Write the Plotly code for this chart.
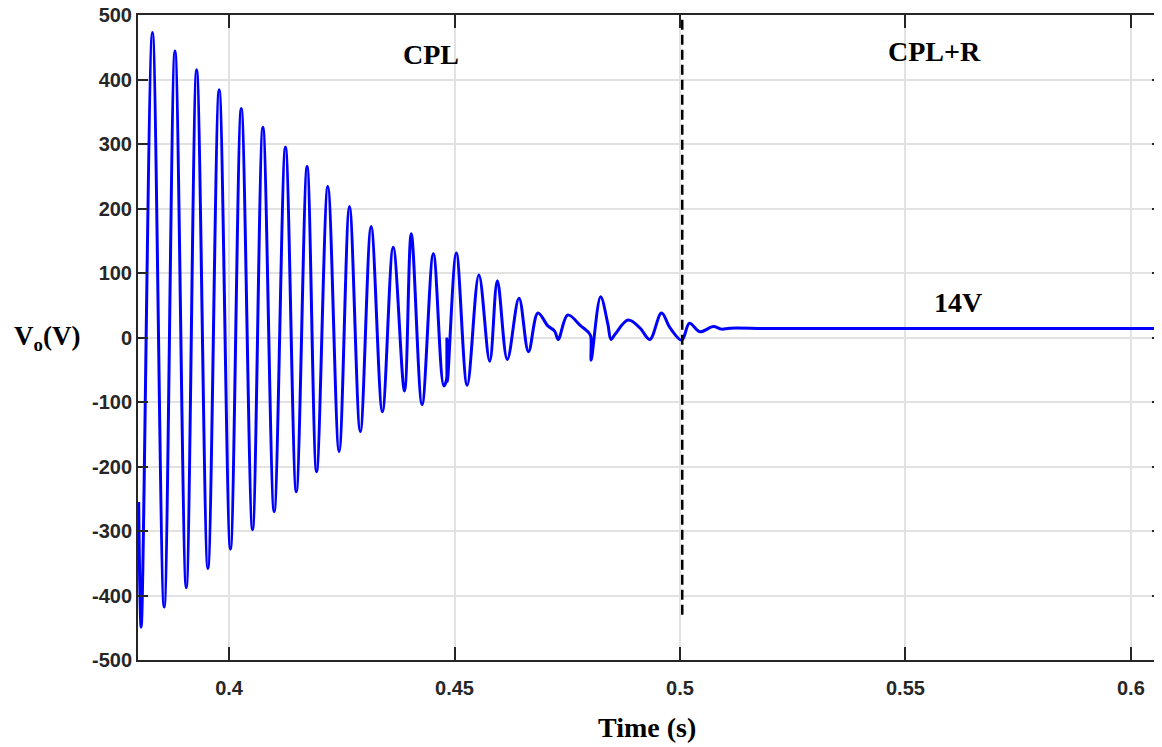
import plotly.graph_objects as go

# Time (s) and output voltage (V) (extrema and glitch points)
time_s = [
    0.37995, 0.3805, 0.3830, 0.3856, 0.3880, 0.3905, 0.3928, 0.3953, 0.3978, 0.4003,
    0.4027, 0.4052, 0.4075, 0.4100, 0.4125, 0.4149, 0.4173, 0.4194, 0.4219, 0.4244,
    0.4267, 0.4291, 0.4315, 0.4340, 0.4364, 0.4389, 0.4404, 0.4428, 0.4453, 0.4476,
    0.4482, 0.4483, 0.4484, 0.4504, 0.4528, 0.4554, 0.4578, 0.4595, 0.4617, 0.4643,
    0.4664, 0.4685, 0.4707, 0.4722, 0.4730, 0.4751, 0.4780, 0.4797, 0.4802, 0.4803,
    0.4824, 0.4840, 0.4847, 0.4856, 0.4885, 0.4911, 0.4933, 0.4959, 0.4978, 0.5004,
    0.5021, 0.5044, 0.5074, 0.5092, 0.5111, 0.5200, 0.5600, 0.6069,
]
vo_volts = [
    -255, -449, 473, -418, 444, -388, 415, -358, 384, -328,
    355, -298, 326, -270, 295, -239, 265, -208, 234, -177,
    203, -146, 172, -115, 140, -83, 161, -104, 130, -75,
    -66, -2, -68, 131, -74, 97, -37, 88, -34, 61,
    -22, 38, 18, 10, -3, 35, 18, 8, 2, -35,
    63, 21, -3, 5, 27, 15, -3, 38, 15, -4,
    22, 9, 17, 13, 14.5, 14, 14, 14,
]

x_ticks = [0.4, 0.45, 0.5, 0.55, 0.6]
x_tick_text = ["0.4", "0.45", "0.5", "0.55", "0.6"]
y_ticks = [-500, -400, -300, -200, -100, 0, 100, 200, 300, 400, 500]
y_tick_text = ["-500", "-400", "-300", "-200", "-100", "0", "100", "200", "300", "400", "500"]

switch_time = 0.5005
labels = [("CPL", 0.4448, 438), ("CPL+R", 0.5565, 443), ("14V", 0.5616, 54)]

fig = go.Figure()
fig.add_trace(go.Scatter(
    x=time_s, y=vo_volts, mode="lines",
    line=dict(color="#0000ff", width=3, shape="spline", smoothing=1.0),
    showlegend=False, hoverinfo="skip",
))

fig.add_shape(type="line", xref="x", yref="y", x0=switch_time, x1=switch_time,
              y0=-430, y1=500, line=dict(color="black", width=2.5, dash="10px,5px"))

serif = dict(family="Liberation Serif, Times New Roman, serif", size=28, color="black", weight="bold")
for txt, tx, ty in labels:
    fig.add_annotation(x=tx, y=ty, xref="x", yref="y", text=txt, showarrow=False,
                       font=serif, xanchor="center", yanchor="middle")

fig.add_annotation(x=0.497, y=-0.105, xref="paper", yref="paper", text="Time (s)",
                   showarrow=False, font=serif, xanchor="center", yanchor="middle")
fig.add_annotation(x=-0.0889, y=0.499, xref="paper", yref="paper", text="V<sub>o</sub>(V)",
                   showarrow=False, font=dict(serif, size=27), xanchor="center", yanchor="middle")

tickfont = dict(family="Liberation Sans, Arial", size=20, color="#262626", weight="bold")
fig.update_xaxes(range=[0.3798, 0.6069], tickvals=x_ticks, ticktext=x_tick_text,
                 showgrid=True, gridcolor="#e2e2e2", gridwidth=1.5,
                 showline=True, linecolor="#262626", linewidth=2, mirror="ticks",
                 ticks="inside", ticklen=13, tickwidth=2, tickcolor="#262626",
                 tickfont=tickfont, zeroline=False, ticklabelstandoff=9, automargin=False,
                 ticklabeloverflow="allow")
fig.update_yaxes(range=[-500, 500], tickvals=y_ticks, ticktext=y_tick_text,
                 showgrid=True, gridcolor="#e2e2e2", gridwidth=1.5,
                 showline=True, linecolor="#262626", linewidth=2, mirror="ticks",
                 ticks="inside", ticklen=10, tickwidth=2, tickcolor="#262626",
                 tickfont=tickfont, zeroline=False, ticklabelstandoff=0, automargin=False,
                 ticklabeloverflow="allow")

# page body adds an 8px margin, so the figure is 8px smaller and margins 8px less
fig.update_layout(width=1154, height=739, autosize=False,
                  margin=dict(l=130, r=0, t=7, b=87, autoexpand=False),
                  plot_bgcolor="white", paper_bgcolor="white")

fig.write_html("out.html")
